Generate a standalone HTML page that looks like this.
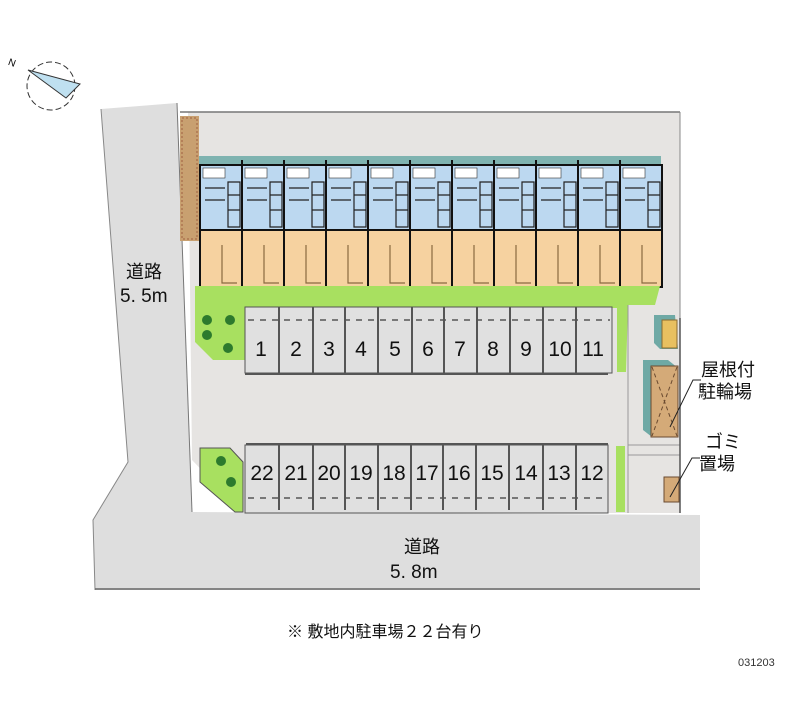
<!DOCTYPE html>
<html><head><meta charset="utf-8"><style>
html,body{margin:0;padding:0;background:#fff;}
svg{display:block}
text{font-family:"Liberation Sans","Noto Sans CJK JP",sans-serif;}
</style></head><body>
<svg width="800" height="727" viewBox="0 0 800 727" xmlns="http://www.w3.org/2000/svg">
<polygon points="101,109 177,103 192,512 700,515 700,590 95,590 93,520 128,462" fill="#dedede"/>
<polyline points="101,109 128,462 93,520 95,590" fill="none" stroke="#888" stroke-width="1"/>
<line x1="95" y1="589" x2="700" y2="589" stroke="#666" stroke-width="1.5"/>
<polygon points="188,112 680,112 680,513 243,513 192,460" fill="#e6e4e2"/>
<line x1="180" y1="112" x2="680" y2="112" stroke="#777" stroke-width="1.5"/>
<line x1="680" y1="112" x2="680" y2="513" stroke="#888" stroke-width="1"/>
<line x1="177" y1="103" x2="192" y2="512" stroke="#777" stroke-width="1"/>
<rect x="180" y="116" width="19" height="125" fill="#c8a070"/>
<rect x="182" y="118" width="15" height="121" fill="none" stroke="#a06040" stroke-dasharray="2,2"/>
<rect x="199" y="156" width="462" height="10" fill="#7fb3b0"/>
<rect x="200" y="165" width="462" height="65" fill="#bcd8f0" stroke="#111" stroke-width="2"/>
<rect x="200" y="230" width="462" height="57" fill="#f6d2a0" stroke="#111" stroke-width="2"/>
<g stroke="#111" stroke-width="2">
<line x1="242" y1="160" x2="242" y2="287"/><line x1="284" y1="160" x2="284" y2="287"/>
<line x1="326" y1="160" x2="326" y2="287"/><line x1="368" y1="160" x2="368" y2="287"/>
<line x1="410" y1="160" x2="410" y2="287"/><line x1="452" y1="160" x2="452" y2="287"/>
<line x1="494" y1="160" x2="494" y2="287"/><line x1="536" y1="160" x2="536" y2="287"/>
<line x1="578" y1="160" x2="578" y2="287"/><line x1="620" y1="160" x2="620" y2="287"/>
</g>
<g fill="#fff" stroke="#333" stroke-width="0.6">
<rect x="203" y="168" width="22" height="10"/><rect x="245" y="168" width="22" height="10"/><rect x="287" y="168" width="22" height="10"/><rect x="329" y="168" width="22" height="10"/><rect x="371" y="168" width="22" height="10"/><rect x="413" y="168" width="22" height="10"/><rect x="455" y="168" width="22" height="10"/><rect x="497" y="168" width="22" height="10"/><rect x="539" y="168" width="22" height="10"/><rect x="581" y="168" width="22" height="10"/><rect x="623" y="168" width="22" height="10"/>
</g>
<g fill="none" stroke="#222" stroke-width="1.2">
<path d="M228 182h12v45h-12zM228 195h12M228 210h12M205 188h20M205 200h20M270 182h12v45h-12zM270 195h12M270 210h12M247 188h20M247 200h20M312 182h12v45h-12zM312 195h12M312 210h12M289 188h20M289 200h20M354 182h12v45h-12zM354 195h12M354 210h12M331 188h20M331 200h20M396 182h12v45h-12zM396 195h12M396 210h12M373 188h20M373 200h20M438 182h12v45h-12zM438 195h12M438 210h12M415 188h20M415 200h20M480 182h12v45h-12zM480 195h12M480 210h12M457 188h20M457 200h20M522 182h12v45h-12zM522 195h12M522 210h12M499 188h20M499 200h20M564 182h12v45h-12zM564 195h12M564 210h12M541 188h20M541 200h20M606 182h12v45h-12zM606 195h12M606 210h12M583 188h20M583 200h20M648 182h12v45h-12zM648 195h12M648 210h12M625 188h20M625 200h20"/>
<path d="M222 245v38h15M264 245v38h15M306 245v38h15M348 245v38h15M390 245v38h15M432 245v38h15M474 245v38h15M516 245v38h15M558 245v38h15M600 245v38h15M642 245v38h15" stroke="#8a6a40"/>
</g>
<polygon points="195,286 660,286 655,305 628,305 626,372 617,372 617,308 245,308 245,360 213,360 195,342" fill="#a8e060"/>
<polygon points="200,448 230,448 243,462 243,512 235,512 200,482" fill="#a8e060" stroke="#555" stroke-width="1"/>
<rect x="616" y="446" width="9" height="66" fill="#a8e060"/>
<g fill="#2d7a2d"><circle cx="207" cy="320" r="5"/><circle cx="230" cy="320" r="5"/><circle cx="207" cy="335" r="5"/><circle cx="228" cy="348" r="5"/><circle cx="221" cy="461" r="5"/><circle cx="231" cy="482" r="5"/></g>
<rect x="245" y="307" width="367" height="66" fill="#e0e0e0" stroke="#555" stroke-width="1"/>
<rect x="245" y="445" width="363" height="68" fill="#e0e0e0" stroke="#555" stroke-width="1"/>
<line x1="245" y1="374" x2="608" y2="374" stroke="#555" stroke-width="2"/>
<line x1="246" y1="444" x2="608" y2="444" stroke="#555" stroke-width="2"/>
<g stroke="#555" stroke-width="2">
<line x1="279" y1="307" x2="279" y2="373"/><line x1="313" y1="307" x2="313" y2="373"/><line x1="345" y1="307" x2="345" y2="373"/><line x1="378" y1="307" x2="378" y2="373"/><line x1="412" y1="307" x2="412" y2="373"/><line x1="444" y1="307" x2="444" y2="373"/><line x1="477" y1="307" x2="477" y2="373"/><line x1="510" y1="307" x2="510" y2="373"/><line x1="543" y1="307" x2="543" y2="373"/><line x1="576" y1="307" x2="576" y2="373"/>
<line x1="279" y1="445" x2="279" y2="510"/><line x1="313" y1="445" x2="313" y2="510"/><line x1="345" y1="445" x2="345" y2="510"/><line x1="378" y1="445" x2="378" y2="510"/><line x1="411" y1="445" x2="411" y2="510"/><line x1="443" y1="445" x2="443" y2="510"/><line x1="476" y1="445" x2="476" y2="510"/><line x1="509" y1="445" x2="509" y2="510"/><line x1="543" y1="445" x2="543" y2="510"/><line x1="576" y1="445" x2="576" y2="510"/>
</g>
<line x1="248" y1="320" x2="610" y2="320" stroke="#555" stroke-width="1.5" stroke-dasharray="6,6"/>
<line x1="248" y1="498" x2="606" y2="498" stroke="#555" stroke-width="1.5" stroke-dasharray="6,6"/>
<g font-size="21" text-anchor="middle" fill="#111" font-family="Liberation Sans Narrow, Liberation Sans, sans-serif">
<text x="261" y="356">1</text><text x="296" y="356">2</text><text x="329" y="356">3</text><text x="361" y="356">4</text><text x="395" y="356">5</text><text x="428" y="356">6</text><text x="460" y="356">7</text><text x="493" y="356">8</text><text x="526" y="356">9</text><text x="560" y="356">10</text><text x="593" y="356">11</text>
<text x="262" y="480">22</text><text x="296" y="480">21</text><text x="329" y="480">20</text><text x="361" y="480">19</text><text x="394" y="480">18</text><text x="427" y="480">17</text><text x="459" y="480">16</text><text x="492" y="480">15</text><text x="526" y="480">14</text><text x="559" y="480">13</text><text x="592" y="480">12</text>
</g>
<line x1="628" y1="305" x2="628" y2="513" stroke="#999" stroke-width="1"/>
<line x1="628" y1="445" x2="680" y2="445" stroke="#999"/><line x1="628" y1="455" x2="680" y2="455" stroke="#999"/>
<line x1="680" y1="318" x2="680" y2="513" stroke="#555" stroke-width="1.5"/>
<polygon points="654,315 675,315 678,349 660,349 654,343" fill="#6fa9a5"/>
<rect x="662" y="320" width="15" height="28" fill="#e8c060" stroke="#8a6a30"/>
<polygon points="643,360 668,360 678,368 678,437 652,437 643,430" fill="#6fa9a5"/>
<rect x="651" y="366" width="27" height="71" fill="#d4aa78" stroke="#6a4a30"/>
<path d="M652 367L677 436M677 367L652 436" stroke="#6a4a30" stroke-dasharray="4,3"/>
<rect x="664" y="477" width="15" height="25" fill="#d4aa78" stroke="#6a4a30"/>
<path d="M670 427L693 380h8M670 497L692 458h8" stroke="#222" fill="none"/>
<g font-size="18" fill="#111">
<text x="701" y="376">屋根付</text><text x="698" y="398">駐輪場</text>
<text x="705" y="448">ゴミ</text><text x="699" y="470">置場</text>
<text x="126" y="278">道路</text><text x="120" y="302" font-size="19">5. 5m</text>
<text x="404" y="553">道路</text><text x="390" y="578" font-size="19">5. 8m</text>
<text x="287" y="637" font-size="16">※ 敷地内駐車場２２台有り</text>
</g>
<text x="738" y="666" font-size="11" fill="#333">031203</text>
<circle cx="51" cy="86" r="24" fill="none" stroke="#333" stroke-dasharray="6,3"/>
<polygon points="28,70 80,84 66,98" fill="#bfe0f0" stroke="#333"/>
<text x="8" y="66" font-size="10" transform="rotate(20 12 64)">N</text>
</svg>
</body></html>
